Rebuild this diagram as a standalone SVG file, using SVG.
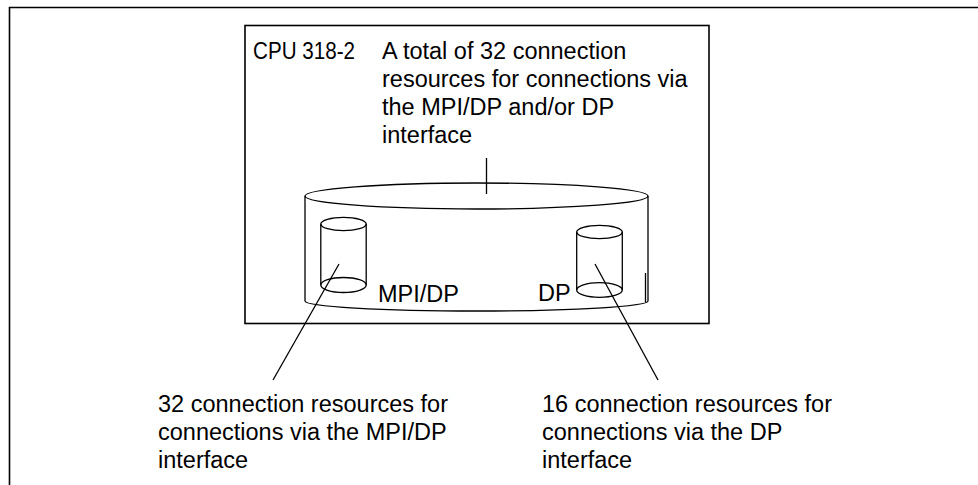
<svg xmlns="http://www.w3.org/2000/svg" width="978" height="485" viewBox="0 0 978 485">
<style>
.ln{fill:none;stroke:#000;stroke-width:1.3}
.fr{fill:none;stroke:#000;stroke-width:1.6}
text{font-family:"Liberation Sans",Arial,sans-serif;font-size:23.5px;fill:#000}
</style>
<rect width="978" height="485" fill="#fff"/>
<g id="frame"><path class="fr" d="M9.5,485 V7.5 H978"/></g>
<g id="cpu">
<rect class="fr" x="245" y="25.5" width="464" height="298"/>
<text x="253" y="59" textLength="102" lengthAdjust="spacingAndGlyphs">CPU 318-2</text>
<text x="382" y="59">A total of 32 connection</text>
<text x="382" y="87">resources for connections via</text>
<text x="382" y="115">the MPI/DP and/or DP</text>
<text x="382" y="143">interface</text>
</g>
<g id="big-cylinder">
<ellipse class="ln" cx="476.5" cy="196" rx="171.5" ry="13"/>
<path class="ln" d="M305,196 V301 A171.5,10 0 0 0 648,301 V196"/>
<line class="ln" x1="645.5" y1="273" x2="645.5" y2="302"/>
</g>
<g id="mpi-cylinder">
<ellipse class="ln" cx="343.5" cy="224" rx="22.7" ry="6.7"/>
<ellipse class="ln" cx="343.5" cy="285" rx="22.7" ry="7.5"/>
<line class="ln" x1="320.8" y1="224" x2="320.8" y2="285"/>
<line class="ln" x1="366.2" y1="224" x2="366.2" y2="285"/>
<text x="378" y="302">MPI/DP</text>
</g>
<g id="dp-cylinder">
<ellipse class="ln" cx="599.5" cy="232" rx="22.8" ry="6.7"/>
<ellipse class="ln" cx="599.5" cy="290" rx="22.8" ry="7.3"/>
<line class="ln" x1="576.7" y1="232" x2="576.7" y2="290"/>
<line class="ln" x1="622.3" y1="232" x2="622.3" y2="290"/>
<text x="538" y="301">DP</text>
</g>
<g id="label-mpi">
<text x="158" y="412">32 connection resources for</text>
<text x="158" y="440">connections via the MPI/DP</text>
<text x="158" y="468">interface</text>
</g>
<g id="label-dp">
<text x="542" y="412">16 connection resources for</text>
<text x="542" y="440">connections via the DP</text>
<text x="542" y="468">interface</text>
</g>
<g id="connectors">
<line class="ln" x1="486.5" y1="158" x2="486.5" y2="194"/>
<line class="ln" x1="339" y1="264" x2="273" y2="380"/>
<line class="ln" x1="595" y1="264" x2="658" y2="380"/>
</g>
</svg>
